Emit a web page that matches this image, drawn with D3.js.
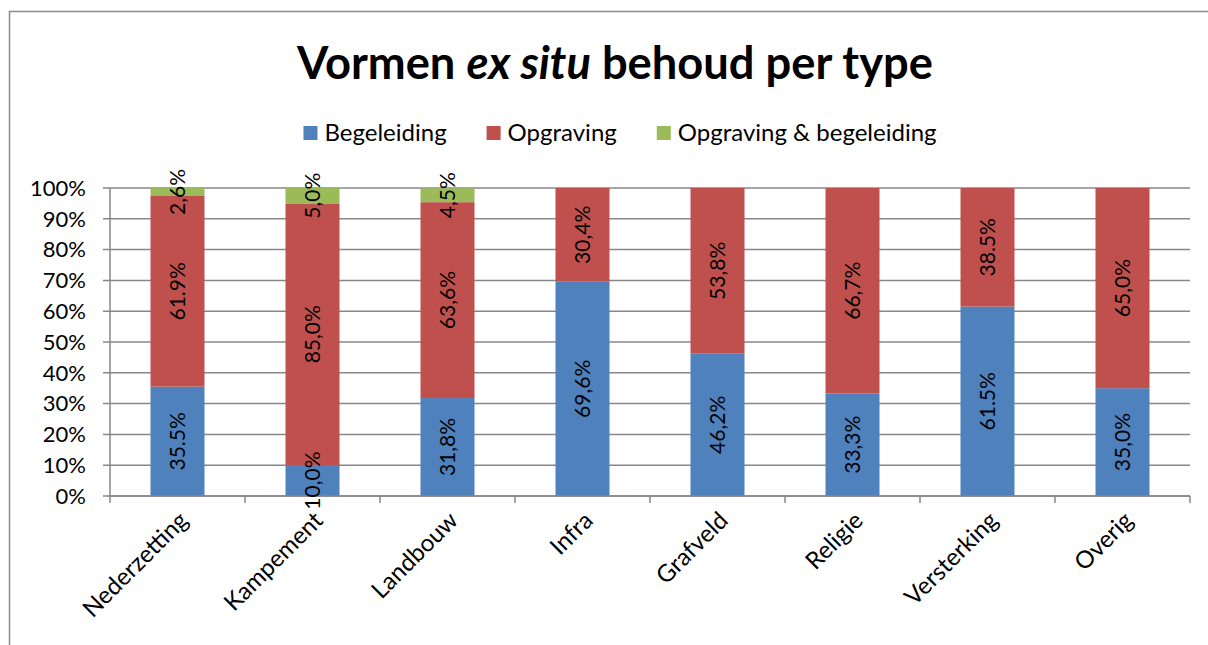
<!DOCTYPE html>
<html>
<head>
<meta charset="utf-8">
<script src="https://cdn.jsdelivr.net/npm/d3@7"></script>
<style>
  body { margin: 0; background: #fff; }
  text { font-family: Lato, "Open Sans", sans-serif; fill: #000; }
</style>
</head>
<body>
<div id="chart"></div>
<script>
// --- Data ---
const categories = ["Nederzetting", "Kampement", "Landbouw", "Infra", "Grafveld", "Religie", "Versterking", "Overig"];
const seriesNames = ["Begeleiding", "Opgraving", "Opgraving & begeleiding"];
const begeleiding = [35.5, 10.0, 31.8, 69.6, 46.2, 33.3, 61.5, 35.0];
const opgraving = [61.9, 85.0, 63.6, 30.4, 53.8, 66.7, 38.5, 65.0];
const beide = [2.6, 5.0, 4.5, 0, 0, 0, 0, 0];
// labels as printed in the chart (mixed decimal separators)
const begeleidingLabels = ["35.5%", "10,0%", "31,8%", "69,6%", "46,2%", "33,3%", "61.5%", "35,0%"];
const opgravingLabels = ["61.9%", "85,0%", "63,6%", "30,4%", "53,8%", "66,7%", "38.5%", "65,0%"];
const beideLabels = ["2,6%", "5,0%", "4,5%", "", "", "", "", ""];
const yTicks = [0, 10, 20, 30, 40, 50, 60, 70, 80, 90, 100];

const colors = ["#4f81bd", "#c0504d", "#9bbb59"];
const width = 1208, height = 645;
const plot = { left: 110, right: 1190, top: 188, bottom: 496 };

const rows = categories.map((c, i) => ({
  cat: c, b: begeleiding[i], o: opgraving[i], g: beide[i],
  labels: [begeleidingLabels[i], opgravingLabels[i], beideLabels[i]]
}));

const svg = d3.select("#chart").append("svg")
  .attr("width", width).attr("height", height);

// chart frame (runs off the right/bottom edge)
svg.append("rect")
  .attr("x", 9.5).attr("y", 11.5)
  .attr("width", 1400).attr("height", 1000)
  .attr("fill", "none").attr("stroke", "#8c8c8c").attr("stroke-width", 1.5);

// --- Title ---
const title = svg.append("text")
  .attr("x", 615).attr("y", 79)
  .attr("text-anchor", "middle")
  .style("font-size", "42px").style("font-weight", "bold");
title.append("tspan").text("Vormen ");
title.append("tspan").style("font-style", "italic").text("ex situ");
title.append("tspan").text(" behoud per type");
// fit to reference width
const tw = title.node().getComputedTextLength();
title.style("font-size", (42 * 636 / tw) + "px");

// --- Scales ---
const x = d3.scaleBand()
  .domain(categories)
  .range([plot.left, plot.right])
  .paddingInner(0.6)
  .paddingOuter(0.3);

const y = d3.scaleLinear().domain([0, 100]).range([plot.bottom, plot.top]);

// gridlines
svg.append("g")
  .selectAll("line")
  .data(yTicks)
  .join("line")
  .attr("x1", plot.left - 7).attr("x2", plot.right)
  .attr("y1", d => y(d)).attr("y2", d => y(d))
  .attr("stroke", "#878787").attr("stroke-width", 1.5);

// y axis labels
svg.append("g")
  .selectAll("text")
  .data(yTicks)
  .join("text")
  .attr("x", plot.left - 24)
  .attr("y", d => y(d))
  .attr("dy", "0.35em")
  .attr("text-anchor", "end")
  .style("font-size", "22px")
  .text(d => d + "%");

// y axis line
svg.append("line")
  .attr("x1", plot.left).attr("x2", plot.left)
  .attr("y1", plot.top).attr("y2", plot.bottom)
  .attr("stroke", "#878787").attr("stroke-width", 1.5);

// --- Stacked bars ---
const stack = d3.stack().keys(["b", "o", "g"]);
const stacked = stack(rows);

const layers = svg.append("g")
  .selectAll("g")
  .data(stacked)
  .join("g")
  .attr("fill", (d, i) => colors[i]);

layers.selectAll("rect")
  .data(d => d.filter(s => s[1] - s[0] > 0))
  .join("rect")
  .attr("x", d => x(d.data.cat))
  .attr("width", x.bandwidth())
  .attr("y", d => y(d[1]))
  .attr("height", d => y(d[0]) - y(d[1]));

// x axis line + tick marks at category boundaries
svg.append("line")
  .attr("x1", plot.left).attr("x2", plot.right)
  .attr("y1", plot.bottom).attr("y2", plot.bottom)
  .attr("stroke", "#878787").attr("stroke-width", 1.5);

const bounds = d3.range(categories.length + 1).map(i => plot.left + i * x.step());
svg.append("g")
  .selectAll("line")
  .data(bounds)
  .join("line")
  .attr("x1", d => d).attr("x2", d => d)
  .attr("y1", plot.bottom).attr("y2", plot.bottom + 7)
  .attr("stroke", "#878787").attr("stroke-width", 1.5);

// data labels (rotated)
stacked.forEach((layer, li) => {
  svg.append("g")
    .selectAll("text")
    .data(layer.filter(s => s[1] - s[0] > 0))
    .join("text")
    .attr("transform", d => {
      const cx = x(d.data.cat) + x.bandwidth() / 2;
      const cy = y((d[0] + d[1]) / 2);
      return `translate(${cx},${cy}) rotate(-90)`;
    })
    .attr("text-anchor", "middle")
    .attr("dy", "0.36em")
    .style("font-size", "21px")
    .text(d => d.data.labels[li]);
});

// category labels
svg.append("g")
  .selectAll("text")
  .data(categories)
  .join("text")
  .attr("transform", d => `translate(${x(d) + x.bandwidth() / 2 + 6},${plot.bottom + 20}) rotate(-45)`)
  .attr("text-anchor", "end")
  .attr("dy", "0.35em")
  .style("font-size", "24px")
  .text(d => d);

// --- Legend ---
const legend = svg.append("g");
let lx = 0;
seriesNames.forEach((name, i) => {
  const item = legend.append("g").attr("transform", `translate(${lx},0)`);
  item.append("rect")
    .attr("x", 0).attr("y", -7).attr("width", 14).attr("height", 14)
    .attr("fill", colors[i]);
  const t = item.append("text")
    .attr("x", 21).attr("y", 0).attr("dy", "0.35em")
    .style("font-size", "24px")
    .text(name);
  lx += 21 + t.node().getComputedTextLength() + 40;
});
const legendW = lx - 40;
legend.attr("transform", `translate(${620 - legendW / 2},133)`);
</script>
</body>
</html>
